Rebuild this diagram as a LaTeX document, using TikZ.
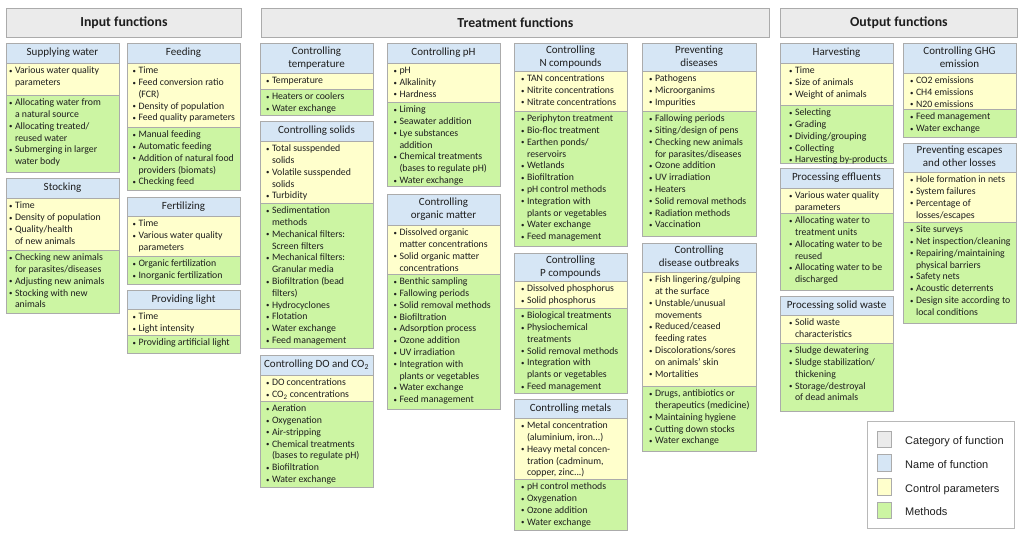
\documentclass[tikz,border=0pt]{standalone}
\usepackage{fontspec}
\setmainfont{Carlito}
\newfontfamily\legfont{Liberation Sans}
\usepackage{graphicx}
\definecolor{catgray}{HTML}{EBEBEB}
\definecolor{hdrblue}{HTML}{D6E6F5}
\definecolor{paryellow}{HTML}{FFFFCC}
\definecolor{metgreen}{HTML}{CCF5A3}
\definecolor{boxline}{HTML}{ABABAB}
\definecolor{txt}{HTML}{1E1E1E}
\definecolor{legline}{HTML}{B8B8B8}
\tikzset{
  catbox/.style={fill=catgray, draw=boxline, line width=0.8pt, inner sep=0pt,
    anchor=north west, minimum height=29pt, text=txt,
    font=\bfseries\fontsize{13.8}{16}\selectfont},
  hdrfill/.style={fill=hdrblue, draw=boxline, line width=0.7pt},
  parfill/.style={fill=paryellow, draw=boxline, line width=0.7pt},
  metfill/.style={fill=metgreen, draw=boxline, line width=0.7pt},
  titletext/.style={font=\fontsize{11}{13.3}\selectfont, align=center, text=txt, inner sep=0pt},
  listtext/.style={font=\fontsize{9.8}{11.8}\selectfont, align=left, anchor=north west, inner sep=0pt, text=txt},
  swatch/.style={draw=boxline, line width=0.6pt},
  legtext/.style={font=\legfont\fontsize{11}{13}\selectfont, anchor=base west, inner sep=0pt, text=txt}
}
\newcommand\bl{\strut\makebox[5.8pt][l]{\raisebox{0.4pt}{\scalebox{0.7}{\textbullet}}}}
\newcommand\cn{\strut\hspace*{5.8pt}}
\def\bw{113}
\def\bo{3}
% #1 left x, #2 top, #3 header bottom, #4 params bottom, #5 methods bottom, #6 title, #7 params, #8 methods
\newcommand\fnbox[8]{%
  \draw[hdrfill] (#1,#2) rectangle ({#1+\bw},#3);
  \draw[parfill] (#1,#3) rectangle ({#1+\bw},#4);
  \draw[metfill] (#1,#4) rectangle ({#1+\bw},#5);
  \node[titletext] (t-#1-#2) at ({#1+\bw/2},{(#2+#3)/2}) {\strut #6};
  \node[listtext] (p-#1-#2) at ({#1+\bo},{#3+2.3}) {#7};
  \node[listtext] (m-#1-#2) at ({#1+\bo},{#4+2.3}) {#8};
}
\begin{document}
\begin{tikzpicture}[x=1pt,y=-1pt]
\useasboundingbox[fill=white] (0,0) rectangle (1024,538);

% category headers
\node[catbox, minimum width=235pt] (input) at (6,8) {Input functions};
\node[catbox, minimum width=508pt] (treat) at (261,8) {Treatment functions};
\node[catbox, minimum width=237pt] (output) at (780,8) {Output functions};

% ---------------- Input column 1
\def\bo{3}
\fnbox{6}{43}{63}{95}{172}{Supplying water}
 {\bl Various water quality\\\cn parameters}
 {\bl Allocating water from\\\cn a natural source\\\bl Allocating treated/\\\cn reused water\\\bl Submerging in larger\\\cn water body}
\fnbox{6}{178}{198}{250}{313}{Stocking}
 {\bl Time\\\bl Density of population\\\bl Quality/health\\\cn of new animals}
 {\bl Checking new animals\\\cn for parasites/diseases\\\bl Adjusting new animals\\\bl Stocking with new\\\cn animals}

% ---------------- Input column 2
\def\bo{5.5}
\fnbox{127}{43}{63}{127}{190}{Feeding}
 {\bl Time\\\bl Feed conversion ratio\\\cn (FCR)\\\bl Density of population\\\bl Feed quality parameters}
 {\bl Manual feeding\\\bl Automatic feeding\\\bl Addition of natural food\\\cn providers (biomats)\\\bl Checking feed}
\fnbox{127}{197}{216}{256}{284}{Fertilizing}
 {\bl Time\\\bl Various water quality\\\cn parameters}
 {\bl Organic fertilization\\\bl Inorganic fertilization}
\fnbox{127}{290}{309}{335}{353}{Providing light}
 {\bl Time\\\bl Light intensity}
 {\bl Providing artificial light}

% ---------------- Treatment column 1
\def\bo{6}
\fnbox{260}{43}{73}{89}{115}{Controlling\\\strut temperature}
 {\bl Temperature}
 {\bl Heaters or coolers\\\bl Water exchange}
\fnbox{260}{121}{141}{203}{348}{Controlling solids}
 {\bl Total susspended\\\cn solids\\\bl Volatile susspended\\\cn solids\\\bl Turbidity}
 {\bl Sedimentation\\\cn methods\\\bl Mechanical filters:\\\cn Screen filters\\\bl Mechanical filters:\\\cn Granular media\\\bl Biofiltration (bead\\\cn filters)\\\bl Hydrocyclones\\\bl Flotation\\\bl Water exchange\\\bl Feed management}
\fnbox{260}{355}{375}{401}{487}{Controlling DO and CO\textsubscript{2}}
 {\bl DO concentrations\\\bl CO\textsubscript{2} concentrations}
 {\bl Aeration\\\bl Oxygenation\\\bl Air-stripping\\\bl Chemical treatments\\\cn (bases to regulate pH)\\\bl Biofiltration\\\bl Water exchange}

% ---------------- Treatment column 2
\def\bo{6.5}
\fnbox{387}{43}{63}{102}{186}{Controlling pH}
 {\bl pH\\\bl Alkalinity\\\bl Hardness}
 {\bl Liming\\\bl Seawater addition\\\bl Lye substances\\\cn addition\\\bl Chemical treatments\\\cn (bases to regulate pH)\\\bl Water exchange}
\fnbox{387}{194}{225}{274}{409}{Controlling\\\strut organic matter}
 {\bl Dissolved organic\\\cn matter concentrations\\\bl Solid organic matter\\\cn concentrations}
 {\bl Benthic sampling\\\bl Fallowing periods\\\bl Solid removal methods\\\bl Biofiltration\\\bl Adsorption process\\\bl Ozone addition\\\bl UV irradiation\\\bl Integration with\\\cn plants or vegetables\\\bl Water exchange\\\bl Feed management}

% ---------------- Treatment column 3
\def\bo{7}
\fnbox{514}{43}{71}{111}{246}{Controlling\\\strut N compounds}
 {\bl TAN concentrations\\\bl Nitrite concentrations\\\bl Nitrate concentrations}
 {\bl Periphyton treatment\\\bl Bio-floc treatment\\\bl Earthen ponds/\\\cn reservoirs\\\bl Wetlands\\\bl Biofiltration\\\bl pH control methods\\\bl Integration with\\\cn plants or vegetables\\\bl Water exchange\\\bl Feed management}
\fnbox{514}{253}{281}{308}{393}{Controlling\\\strut P compounds}
 {\bl Dissolved phosphorus\\\bl Solid phosphorus}
 {\bl Biological treatments\\\bl Physiochemical\\\cn treatments\\\bl Solid removal methods\\\bl Integration with\\\cn plants or vegetables\\\bl Feed management}
\fnbox{514}{399}{418}{479}{530}{Controlling metals}
 {\bl Metal concentration\\\cn (aluminium, iron...)\\\bl Heavy metal concen-\\\cn tration (cadminum,\\\cn copper, zinc...)}
 {\bl pH control methods\\\bl Oxygenation\\\bl Ozone addition\\\bl Water exchange}

% ---------------- Treatment column 4
\def\bo{7}
\def\bw{114}
\fnbox{642}{43}{71}{111}{236}{Preventing\\\strut diseases}
 {\bl Pathogens\\\bl Microorganims\\\bl Impurities}
 {\bl Fallowing periods\\\bl Siting/design of pens\\\bl Checking new animals\\\cn for parasites/diseases\\\bl Ozone addition\\\bl UV irradiation\\\bl Heaters\\\bl Solid removal methods\\\bl Radiation methods\\\bl Vaccination}
\fnbox{642}{243}{272}{386}{451}{Controlling\\\strut disease outbreaks}
 {\bl Fish lingering/gulping\\\cn at the surface\\\bl Unstable/unusual\\\cn movements\\\bl Reduced/ceased\\\cn feeding rates\\\bl Discolorations/sores\\\cn on animals' skin\\\bl Mortalities}
 {\bl Drugs, antibiotics or\\\cn therapeutics (medicine)\\\bl Maintaining hygiene\\\bl Cutting down stocks\\\bl Water exchange}
\def\bw{113}

% ---------------- Output column 1
\def\bo{9}
\fnbox{780}{43}{63}{105}{163}{Harvesting}
 {\bl Time\\\bl Size of animals\\\bl Weight of animals}
 {\bl Selecting\\\bl Grading\\\bl Dividing/grouping\\\bl Collecting\\\bl Harvesting by-products}
\fnbox{780}{168}{188}{213}{290}{Processing effluents}
 {\bl Various water quality\\\cn parameters}
 {\bl Allocating water to\\\cn treatment units\\\bl Allocating water to be\\\cn reused\\\bl Allocating water to be\\\cn discharged}
\fnbox{780}{296}{315}{343}{411}{Processing solid waste}
 {\bl Solid waste\\\cn characteristics}
 {\bl Sludge dewatering\\\bl Sludge stabilization/\\\cn thickening\\\bl Storage/destroyal\\\cn of dead animals}

% ---------------- Output column 2
\def\bo{7}
\fnbox{903}{43}{73}{109}{137}{Controlling GHG\\\strut emission}
 {\bl CO2 emissions\\\bl CH4 emissions\\\bl N20 emissions}
 {\bl Feed management\\\bl Water exchange}
\fnbox{903}{143}{172}{222}{323}{Preventing escapes\\\strut and other losses}
 {\bl Hole formation in nets\\\bl System failures\\\bl Percentage of\\\cn losses/escapes}
 {\bl Site surveys\\\bl Net inspection/cleaning\\\bl Repairing/maintaining\\\cn physical barriers\\\bl Safety nets\\\bl Acoustic deterrents\\\bl Design site according to\\\cn local conditions}

% ---------------- Legend
\draw[draw=legline, fill=white, line width=0.7pt] (867,421) rectangle (1014,528);
\draw[swatch, fill=catgray] (877,431) rectangle (891,447);
\draw[swatch, fill=hdrblue] (877,454) rectangle (891,471);
\draw[swatch, fill=paryellow] (877,478) rectangle (891,495);
\draw[swatch, fill=metgreen] (877,502) rectangle (891,518);
\node[legtext] (l1) at (905,444.5) {Category of function};
\node[legtext] (l2) at (905,468.5) {Name of function};
\node[legtext] (l3) at (905,492.5) {Control parameters};
\node[legtext] (l4) at (905,515.5) {Methods};
\end{tikzpicture}
\end{document}
